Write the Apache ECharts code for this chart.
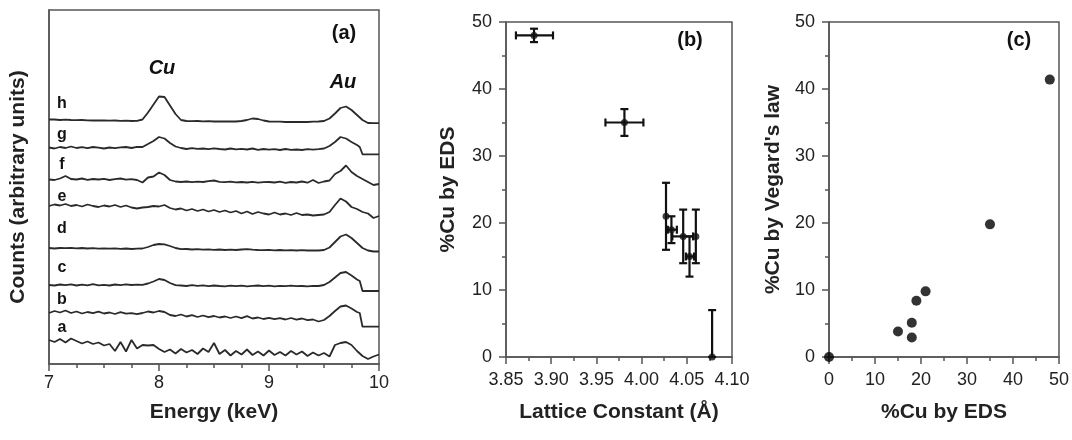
<!DOCTYPE html>
<html><head><meta charset="utf-8">
<script src="https://cdn.jsdelivr.net/npm/echarts/dist/echarts.min.js"></script>
<style>html,body{margin:0;padding:0;background:#fff}#c{width:1072px;height:440px}</style>
</head><body><div id="c"></div>
<script>
// ---------- Panel (a): EDS spectra (offset traces, arbitrary units) ----------
var energies = [7.00,7.05,7.10,7.15,7.20,7.25,7.30,7.35,7.40,7.45,
  7.50,7.55,7.60,7.65,7.70,7.75,7.80,7.85,7.90,7.95,
  8.00,8.05,8.10,8.15,8.20,8.25,8.30,8.35,8.40,8.45,
  8.50,8.55,8.60,8.65,8.70,8.75,8.80,8.85,8.90,8.95,
  9.00,9.05,9.10,9.15,9.20,9.25,9.30,9.35,9.40,9.45,
  9.50,9.55,9.60,9.65,9.70,9.75,9.80,9.825,9.85,9.90,
  9.95,10.00];
var traceNames = ['a','b','c','d','e','f','g','h'];
var traceH = [252.5,252.5,252,252.3,252,251.8,252,251.7,251.5,251.7,
  251.5,251.3,251.5,251.2,251.3,251,251.2,252.5,259.5,267.5,
  275.5,275,266.5,258,252,251,250.8,251,250.7,250.8,
  250.5,250.7,250.5,250.6,250.5,251,252,253.5,253,251.5,
  250.5,250.3,250.3,250,250.2,250,250.2,250,250.3,250.5,
  251,253.5,258.5,264,265.5,262,257,254.5,252,249,
  248.8,248.8];
var traceG = [224.5,223.5,225,224,225.5,224,224.8,223.8,225,224.3,
  223.5,224.5,223.8,224.6,225,224,225.2,225,228,231,
  235,233.5,229,225.5,224,223,223.8,223.2,223.5,222.8,
  223.6,223,222.5,223.5,222.6,223.2,222.5,223.5,222.2,223,
  222.3,222.8,222,223,222.2,222.5,222,222.8,222.3,222.8,
  223.5,226,230,235,233.5,230,227,225,217.7,217.7,
  217.7,217.7];
var traceF = [192.5,192,193.5,196,193,192.5,193.5,192.2,193,192.5,
  193.2,192,192.8,193.5,192.3,192.8,192,189.5,194.5,195.5,
  199.5,197,192,190.5,190,190.5,189.8,190.3,190,190.8,
  191.5,190.2,189.8,190.4,189.6,190,189.5,190.2,189.3,189.8,
  190,189.5,190.3,189.2,190,189.5,190.5,189.3,192,189,
  190.5,191.5,198,201,206.5,200,196,194.5,193,190,
  187,188];
var traceE = [166,167.5,166.5,168,166,167,165.5,167.5,166,165,
  166.5,165.5,167,165,166.5,164.5,163.5,164.5,165,166,
  165.5,167,164,162.5,163.5,161.5,163,161,162.5,160.5,
  162,160,161.5,159.5,161,158.5,160.5,158,160,158.5,
  157.5,159.5,157.5,158.5,157,159,157,157.5,156.5,157,
  157.5,160,167,173.5,170.5,165,163,161.5,160,158.5,
  154,156];
var traceD = [124,123.5,124,123.8,124.2,123.6,124,123.5,123.8,123.4,
  123.7,123.3,123.6,123.2,123.5,123,123.3,123.5,125,127,
  128,127.7,126,124,122.8,123,122.5,122.8,122.3,122.6,
  122.2,122.5,122,122.3,122,122.5,122.8,122.3,122,121.8,
  122.1,121.7,122,121.6,121.9,121.5,121.8,121.5,121.7,121.5,
  122,124.5,130,135.5,137.5,134,129,126.5,124,121.5,
  120.5,120.5];
var traceC = [87,86.5,87.5,86.8,87.6,86.5,87.3,86.7,87.8,86.6,
  87.2,86.5,87.5,86.8,87.6,87,87.4,87.2,88.5,90.5,
  93,92,89,86.8,86.5,86,86.8,86.2,86.6,85.8,
  86.5,86,85.6,86.3,85.8,86.4,85.7,86.2,86.5,85.8,
  86.3,85.7,86.2,85.9,86.3,85.8,86,85.7,86.2,86,
  87,90,94.5,99,100,96.5,92.5,91,81,81,
  81,81];
var traceB = [59,61,59.5,61.5,59,60.5,58.5,60,58.8,60.3,
  58.5,59.5,58,59.8,58.3,58.8,57.8,59,60.5,59.5,
  61,60,57,56,57.5,55.5,56.8,55,56.5,54.8,
  56,54.5,55.5,54,55.5,53.8,55.8,53.5,54.5,53,
  54.2,52.8,53.8,52.5,54,52.3,53.5,51.8,52.5,50.5,
  52,56,61,65.5,66.5,63.5,60,59,45.3,45.3,
  45.3,45.3];
var traceA = [32,30,33,29.5,33.5,31,28.5,30.5,28,29.5,
  26.5,28,21,30,20.5,32,23.5,27,26.5,27,
  23,20,22.5,18.5,23,19.5,22,18,23.5,20,
  29,18,22,16.5,21,17.5,22.5,17,20.5,16.5,
  21.5,17,20,16.5,21,17.5,20.5,16,19.5,16.5,
  19,15.5,27,29,30,27,21,18.5,16,13,
  15.5,17.5];
var traces = [traceA, traceB, traceC, traceD, traceE, traceF, traceG, traceH];
var energyTicks = [7, 8, 9, 10];

// ---------- Panel (b): %Cu by EDS vs lattice constant ----------
var latticeConst = [3.881, 3.981, 4.027, 4.033, 4.046, 4.053, 4.060, 4.078];
var cuEDS        = [48, 35, 21, 19, 18, 15, 18, 0];
var latticeLow   = [3.861, 3.960, 4.027, 4.029, 4.034, 4.049, 4.060, 4.078];
var latticeHigh  = [3.902, 4.002, 4.027, 4.039, 4.057, 4.058, 4.060, 4.078];
var cuEDSLow     = [47, 33, 16, 17, 14, 12, 14, 0];
var cuEDSHigh    = [49, 37, 26, 21, 22, 18, 22, 7];

// ---------- Panel (c): %Cu by Vegard's law vs %Cu by EDS ----------
var cuByEDS     = [0, 15, 18, 18, 19, 21, 35, 48];
var cuByVegard  = [0, 3.8, 5.1, 2.9, 8.4, 9.8, 19.8, 41.4];

// ---------- styling helpers ----------
var FONT = 'Liberation Sans, Arial, sans-serif';
var AX = '#555';
function axisCommon(extra) {
  var o = {
    axisLine: {show: true, onZero: false, lineStyle: {color: AX, width: 1.5}},
    axisTick: {show: true, length: 7, lineStyle: {color: AX, width: 1.5}},
    minorTick: {show: true, splitNumber: 2, length: 4, lineStyle: {color: AX, width: 1.5}},
    splitLine: {show: false},
    minorSplitLine: {show: false},
    axisLabel: {color: '#222', fontSize: 18, fontFamily: FONT, margin: 14},
    nameLocation: 'middle',
    nameTextStyle: {color: '#222', fontSize: 21, fontWeight: 'bold', fontFamily: FONT}
  };
  for (var k in extra) o[k] = extra[k];
  return o;
}

var traceSeries = traces.map(function (vals, i) {
  return {
    type: 'line', name: traceNames[i], xAxisIndex: 0, yAxisIndex: 0,
    data: energies.map(function (e, j) { return [e, vals[j]]; }),
    showSymbol: false, symbol: 'none', smooth: false,
    lineStyle: {color: '#2a2a2a', width: 1.8}, silent: true, animation: false
  };
});

var errData = latticeConst.map(function (x, i) {
  return [x, cuEDS[i], latticeLow[i], latticeHigh[i], cuEDSLow[i], cuEDSHigh[i]];
});

function renderErr(params, api) {
  var x = api.value(0), y = api.value(1);
  var xl = api.value(2), xh = api.value(3), yl = api.value(4), yh = api.value(5);
  var st = {stroke: '#111', lineWidth: 2.2, fill: null};
  var cap = 4;
  var ch = [];
  if (yl !== yh) {
    var a = api.coord([x, yl]), b = api.coord([x, yh]);
    ch.push({type: 'line', shape: {x1: a[0], y1: a[1], x2: b[0], y2: b[1]}, style: st});
    ch.push({type: 'line', shape: {x1: a[0] - cap, y1: a[1], x2: a[0] + cap, y2: a[1]}, style: st});
    ch.push({type: 'line', shape: {x1: b[0] - cap, y1: b[1], x2: b[0] + cap, y2: b[1]}, style: st});
  }
  if (xl !== xh) {
    var c = api.coord([xl, y]), d = api.coord([xh, y]);
    ch.push({type: 'line', shape: {x1: c[0], y1: c[1], x2: d[0], y2: d[1]}, style: st});
    ch.push({type: 'line', shape: {x1: c[0], y1: c[1] - cap, x2: c[0], y2: c[1] + cap}, style: st});
    ch.push({type: 'line', shape: {x1: d[0], y1: d[1] - cap, x2: d[0], y2: d[1] + cap}, style: st});
  }
  return {type: 'group', children: ch};
}

function txt(x, y, s, font) {
  return {type: 'text', x: x, y: y, silent: true,
    style: {text: s, fill: '#111', font: font || ('bold 20px ' + FONT), textAlign: 'center', textVerticalAlign: 'middle'}};
}
var letterY = [328, 300, 268, 229, 197, 165, 135, 104];

var graphics = [
  txt(344, 33, '(a)'),
  txt(162, 68, 'Cu', 'italic bold 20px ' + FONT),
  txt(343, 82, 'Au', 'italic bold 20px ' + FONT),
  txt(690, 40, '(b)'),
  txt(1019, 40, '(c)')
];
traceNames.forEach(function (n, i) { graphics.push(txt(62, letterY[i], n, 'bold 16px ' + FONT)); });

var option = {
  animation: false,
  backgroundColor: '#fff',
  textStyle: {fontFamily: FONT},
  grid: [
    {left: 49, top: 10, width: 330, height: 354, show: true, borderColor: AX, borderWidth: 1.5, containLabel: false},
    {left: 506, top: 22, width: 226, height: 335, show: true, borderColor: AX, borderWidth: 1.5, containLabel: false},
    {left: 829, top: 22, width: 232, height: 335, show: true, borderColor: AX, borderWidth: 1.5, containLabel: false}
  ],
  xAxis: [
    axisCommon({type: 'value', gridIndex: 0, min: 7, max: 10, interval: 1,
      minorTick: {show: true, splitNumber: 4, length: 4, lineStyle: {color: AX, width: 1.5}},
      axisLabel: {color: '#222', fontSize: 18, fontFamily: FONT, margin: 10,
        formatter: function (v) { return energyTicks.indexOf(v) >= 0 ? String(v) : ''; }},
      name: 'Energy (keV)', nameGap: 38}),
    axisCommon({type: 'value', gridIndex: 1, min: 3.85, max: 4.10, interval: 0.05,
      axisLabel: {color: '#222', fontSize: 18, fontFamily: FONT, margin: 14,
        formatter: function (v) { return v.toFixed(2); }},
      name: 'Lattice Constant (Å)', nameGap: 45}),
    axisCommon({type: 'value', gridIndex: 2, min: 0, max: 50, interval: 10,
      name: '%Cu by EDS', nameGap: 45})
  ],
  yAxis: [
    {type: 'value', gridIndex: 0, min: 8, max: 362,
      axisLine: {show: true, onZero: false, lineStyle: {color: AX, width: 1.5}},
      axisTick: {show: false}, axisLabel: {show: false}, splitLine: {show: false},
      name: 'Counts (arbitrary units)', nameLocation: 'middle', nameGap: 20, nameRotate: 90,
      nameTextStyle: {color: '#222', fontSize: 21, fontWeight: 'bold', fontFamily: FONT}},
    axisCommon({type: 'value', gridIndex: 1, min: 0, max: 50, interval: 10,
      name: '%Cu by EDS', nameGap: 47, nameRotate: 90}),
    axisCommon({type: 'value', gridIndex: 2, min: 0, max: 50, interval: 10,
      name: "%Cu by Vegard's law", nameGap: 45, nameRotate: 90})
  ],
  series: traceSeries.concat([
    {type: 'custom', name: 'error bars', xAxisIndex: 1, yAxisIndex: 1,
      renderItem: renderErr, data: errData, clip: false, silent: true, z: 3},
    {type: 'scatter', name: '%Cu by EDS', xAxisIndex: 1, yAxisIndex: 1,
      data: latticeConst.map(function (x, i) { return [x, cuEDS[i]]; }),
      symbol: 'circle', symbolSize: 7, itemStyle: {color: '#111'}, clip: false, z: 4},
    {type: 'scatter', name: "%Cu by Vegard's law", xAxisIndex: 2, yAxisIndex: 2,
      data: cuByEDS.map(function (x, i) { return [x, cuByVegard[i]]; }),
      symbol: 'circle', symbolSize: 10, itemStyle: {color: '#000'}, clip: false, z: 4}
  ]),
  graphic: graphics
};

var chart = echarts.init(document.getElementById('c'), null, {renderer: 'canvas'});
chart.setOption(option);
</script>
</body></html>
